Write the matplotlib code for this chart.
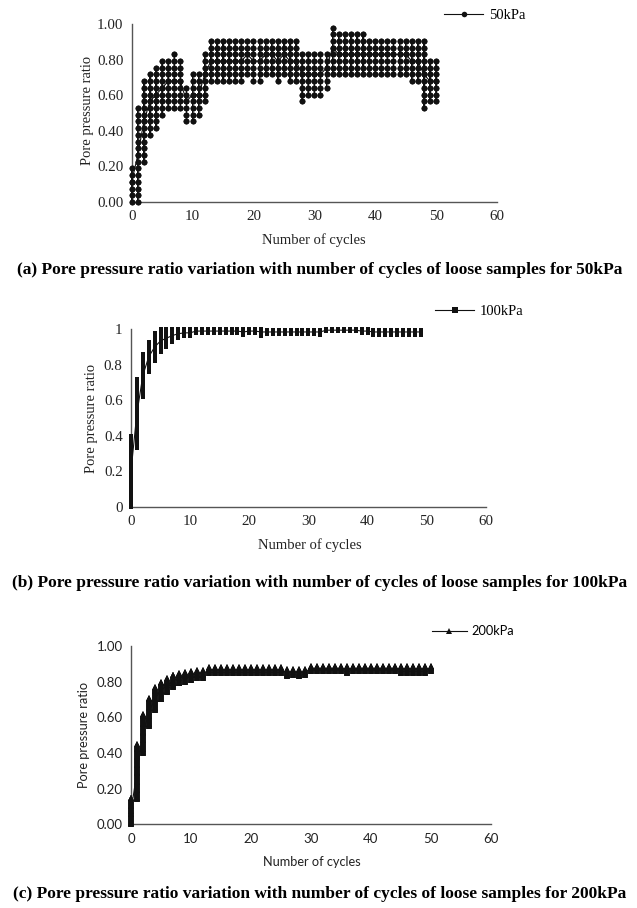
import numpy as np
import matplotlib
matplotlib.use("Agg")
import matplotlib.pyplot as plt

W, H = 637, 908

# per-cycle min / max of the pore pressure ratio
cycles_50 = list(range(0, 51))
low_50 = [0.00, 0.00, 0.23, 0.38, 0.41, 0.49, 0.53, 0.53, 0.53, 0.45,
          0.45, 0.49, 0.57, 0.68, 0.68, 0.68, 0.68, 0.68, 0.68, 0.72,
          0.68, 0.68, 0.72, 0.72, 0.68, 0.72, 0.68, 0.68, 0.57, 0.60,
          0.60, 0.60, 0.64, 0.72, 0.72, 0.72, 0.72, 0.72, 0.72, 0.72,
          0.72, 0.72, 0.72, 0.72, 0.72, 0.72, 0.68, 0.68, 0.53, 0.57,
          0.57]
high_50 = [0.19, 0.53, 0.68, 0.72, 0.75, 0.79, 0.79, 0.83, 0.79, 0.64,
           0.72, 0.72, 0.83, 0.91, 0.91, 0.91, 0.91, 0.91, 0.91, 0.91,
           0.91, 0.91, 0.91, 0.91, 0.91, 0.91, 0.91, 0.91, 0.83, 0.83,
           0.83, 0.83, 0.83, 0.98, 0.94, 0.94, 0.94, 0.94, 0.94, 0.91,
           0.91, 0.91, 0.91, 0.91, 0.91, 0.91, 0.91, 0.91, 0.91, 0.79,
           0.79]
step_50 = 0.0377  # readings are quantised

cycles_100 = list(range(0, 50))
low_100 = [0.00, 0.33, 0.62, 0.76, 0.82, 0.87, 0.90, 0.93, 0.95, 0.96,
           0.96, 0.98, 0.98, 0.98, 0.98, 0.98, 0.98, 0.98, 0.98, 0.97,
           0.98, 0.98, 0.965, 0.975, 0.975, 0.975, 0.975, 0.975, 0.975, 0.975,
           0.975, 0.975, 0.97, 0.99, 0.99, 0.99, 0.99, 0.99, 0.99, 0.98,
           0.98, 0.97, 0.97, 0.97, 0.97, 0.97, 0.97, 0.97, 0.97, 0.97]
high_100 = [0.40, 0.72, 0.86, 0.93, 0.98, 1.00, 1.00, 1.00, 1.00, 1.00,
            1.00, 1.00, 1.00, 1.00, 1.00, 1.00, 1.00, 1.00, 1.00, 1.00,
            1.00, 1.00, 1.00, 0.995, 0.995, 0.995, 0.995, 0.995, 0.995, 0.995,
            0.995, 0.995, 0.995, 1.00, 1.00, 1.00, 1.00, 1.00, 1.00, 1.00,
            1.00, 0.995, 0.995, 0.995, 0.995, 0.995, 0.995, 0.995, 0.995, 0.995]

cycles_200 = list(range(0, 51))
low_200 = [0.00, 0.14, 0.40, 0.55, 0.64, 0.70, 0.74, 0.77, 0.79, 0.80,
           0.81, 0.82, 0.82, 0.85, 0.85, 0.85, 0.85, 0.85, 0.85, 0.85,
           0.85, 0.85, 0.85, 0.85, 0.85, 0.85, 0.83, 0.84, 0.83, 0.84,
           0.86, 0.86, 0.86, 0.86, 0.86, 0.86, 0.85, 0.86, 0.86, 0.86,
           0.86, 0.86, 0.86, 0.86, 0.86, 0.85, 0.85, 0.85, 0.85, 0.85,
           0.86]
high_200 = [0.15, 0.45, 0.62, 0.71, 0.77, 0.80, 0.82, 0.84, 0.85, 0.855,
            0.86, 0.865, 0.865, 0.88, 0.88, 0.88, 0.88, 0.88, 0.88, 0.88,
            0.88, 0.88, 0.88, 0.88, 0.88, 0.88, 0.87, 0.87, 0.87, 0.87,
            0.89, 0.89, 0.89, 0.89, 0.89, 0.89, 0.89, 0.89, 0.89, 0.89,
            0.89, 0.89, 0.89, 0.89, 0.89, 0.89, 0.89, 0.89, 0.89, 0.89,
            0.89]
step_fine = 0.005

titles = [
    "(a) Pore pressure ratio variation with number of cycles of loose samples for 50kPa",
    "(b) Pore pressure ratio variation with number of cycles of loose samples for 100kPa",
    "(c) Pore pressure ratio variation with number of cycles of loose samples for 200kPa",
]


def trace(cycles, low, high, step):
    # samples in each cycle swing mid -> max -> min -> mid
    xs, ys = [], []
    for c, lo, hi in zip(cycles, low, high):
        levels = np.arange(round(lo / step), round(hi / step) + 1) * step
        mid = len(levels) // 2
        seq = list(levels[mid:]) + list(levels[::-1]) + list(levels[:mid + 1])
        xs += [c] * len(seq)
        ys += seq
    return xs, ys


def rect(l, t, r, b):
    return [l / W, 1 - b / H, (r - l) / W, (b - t) / H]


serif = "Liberation Serif"
sans = "Lato"

fig = plt.figure(figsize=(W / 100, H / 100), dpi=100)

panels = [
    dict(box=(131.7, 24, 497, 202), data=(cycles_50, low_50, high_50, step_50),
         marker="o", ms=4.2, font=serif, fs=10.5, fmt="{:.2f}", label="50kPa",
         leg=(444, 15.7), ylab=(88, 110), xlab=(314, 240), title=270),
    dict(box=(131, 329.3, 485.8, 506.7), data=(cycles_100, low_100, high_100, step_fine),
         marker="s", ms=3.4, font=serif, fs=10.5, fmt="{:g}", label="100kPa",
         leg=(435, 311.7), ylab=(92, 418), xlab=(310, 545), title=583),
    dict(box=(131, 646, 491, 824.3), data=(cycles_200, low_200, high_200, step_fine),
         marker="^", ms=4.4, font=sans, fs=9.2, fmt="{:.2f}", label="200kPa",
         leg=(432, 631), ylab=(84, 735), xlab=(312, 862), title=894),
]

for p, title in zip(panels, titles):
    ax = fig.add_axes(rect(*p["box"]))
    xs, ys = trace(*p["data"])
    line, = ax.plot(xs, ys, color="#111111", lw=0.8, marker=p["marker"],
                    ms=p["ms"], mew=0, clip_on=False, zorder=3)
    ax.set_xlim(0, 60)
    ax.set_ylim(0, 1)
    ax.set_xticks(range(0, 61, 10))
    yt = np.arange(0, 1.01, 0.2)
    ax.set_yticks(yt)
    ax.set_yticklabels([p["fmt"].format(round(v, 1)) for v in yt])
    ax.tick_params(length=0, labelsize=p["fs"] + 0.3, pad=6, colors="#222222")
    for lab in ax.get_xticklabels() + ax.get_yticklabels():
        lab.set_family(p["font"])
    for s in ["top", "right"]:
        ax.spines[s].set_visible(False)
    for s in ["left", "bottom"]:
        ax.spines[s].set_color("#555555")
        ax.spines[s].set_linewidth(1.0)

    lx, ly = p["leg"]
    leg = ax.legend([line], [p["label"]], loc="center left",
                    bbox_to_anchor=(lx / W, 1 - ly / H), bbox_transform=fig.transFigure,
                    frameon=False, handlelength=2.7, handletextpad=0.4,
                    borderpad=0, borderaxespad=0,
                    prop={"family": p["font"], "size": p["fs"]})
    for h in leg.legend_handles:
        h.set_markersize(4)

    fig.text(p["ylab"][0] / W, 1 - p["ylab"][1] / H, "Pore pressure ratio",
             rotation=90, ha="center", va="center", family=p["font"], fontsize=p["fs"],
             color="#222222")
    fig.text(p["xlab"][0] / W, 1 - p["xlab"][1] / H, "Number of cycles",
             ha="center", va="center", family=p["font"], fontsize=p["fs"], color="#222222")
    fig.text(320 / W, 1 - p["title"] / H, title, ha="center", va="center",
             family=serif, weight="bold", fontsize=12.5)

fig.savefig("out.png", dpi=100)
